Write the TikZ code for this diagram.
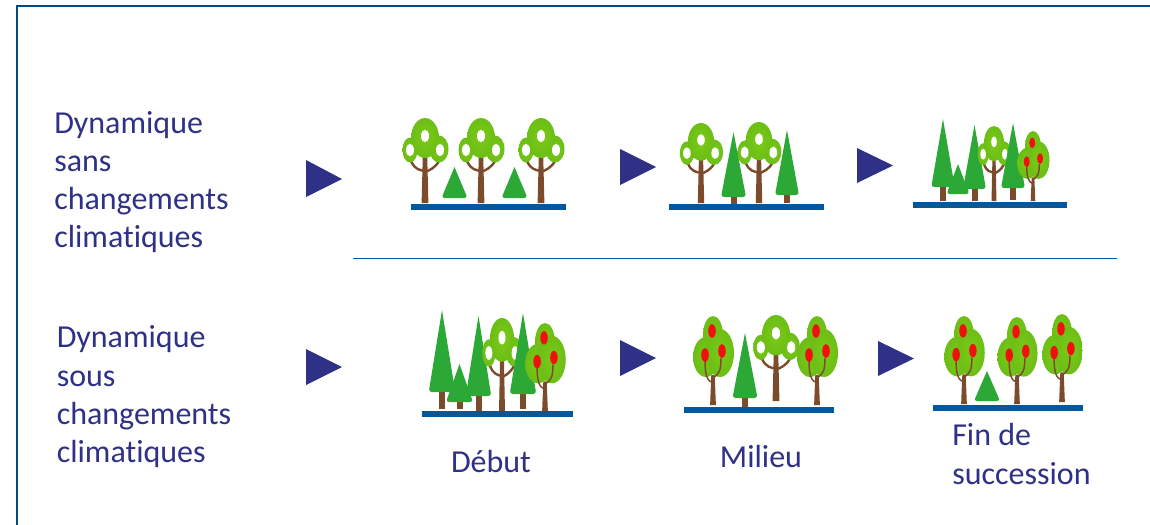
\documentclass[tikz,border=0pt]{standalone}
\usepackage{fontspec}
\setmainfont[Ligatures=NoCommon]{Carlito}
\definecolor{navy}{HTML}{2E3185}
\definecolor{framec}{HTML}{004A80}
\definecolor{groundc}{HTML}{0059A0}
\definecolor{firc}{HTML}{2BA836}
\definecolor{trunkc}{HTML}{7B4B2C}
\definecolor{leafa}{HTML}{7CCA18}
\definecolor{leafb}{HTML}{6CBE16}
\definecolor{fruitc}{HTML}{F01010}
\tikzset{
  lab/.style={text=navy,font=\fontsize{24}{28.5}\selectfont,inner sep=0pt,align=left},
  go/.style={fill=navy},
  ground/.style={fill=groundc},
  hole/.style={fill=white},
  leaf/.style={inner color=leafa,outer color=leafb}
}
% [x squeeze], x, base, top
\newcommand{\oaktree}[4][1]{%
  \pgfmathsetmacro{\sc}{(#3-(#4))/85}
  \pgfmathsetmacro{\sx}{\sc*#1}
  \begin{scope}[shift={(#2,#3)},yscale=\sc,xscale=\sx]
    \fill[trunkc] (-3.4,0) -- (3.4,0) -- (2.2,-48) -- (-2.2,-48) -- cycle;
    \draw[trunkc,line width=1.8pt] (-14,-42) .. controls (-10,-33) and (-5,-33) .. (0,-32);
    \draw[trunkc,line width=1.8pt] (14,-42) .. controls (10,-35) and (5,-33) .. (0,-31);
    \shade[leaf] (-15,-53) ellipse [x radius=7.5,y radius=12.5];
    \shade[leaf] (14,-54) ellipse [x radius=9.5,y radius=13.5];
    \shade[leaf] (0,-65) ellipse [x radius=14,y radius=20];
    \fill[hole] (0,-67) ellipse [x radius=4,y radius=6.2];
    \fill[hole] (-15,-53) ellipse [x radius=4,y radius=6.2];
    \fill[hole] (15,-53) ellipse [x radius=4,y radius=6.2];
  \end{scope}}
\newcommand{\appletree}[3]{%
  \pgfmathsetmacro{\sc}{(#2-(#3))/89}
  \begin{scope}[shift={(#1,#2)},yscale=\sc,xscale=\sc]
    \shade[leaf] (0,-70) ellipse [x radius=10,y radius=19];
    \shade[leaf] (-7,-48) ellipse [x radius=13,y radius=20];
    \shade[leaf] (7,-52) ellipse [x radius=14,y radius=24];
    \fill[trunkc] (-2.9,0) -- (2.9,0) -- (1.7,-30) -- (-1.7,-30) -- cycle;
    \draw[trunkc,line width=1.1pt] (-8,-45) .. controls (-8,-30) and (-6,-24) .. (0,-22);
    \draw[trunkc,line width=1.1pt] (8,-47) .. controls (8,-34) and (6,-31) .. (0,-27);
    \fill[fruitc] (-1,-74) ellipse [x radius=3.8,y radius=6.8];
    \fill[fruitc] (-8,-50) ellipse [x radius=3.8,y radius=6.8];
    \fill[fruitc] (9,-54) ellipse [x radius=3.8,y radius=6.8];
  \end{scope}}
% x, trunk bottom, crown bottom, top, width
\newcommand{\firtree}[5]{%
  \fill[trunkc] ({#1-3},#2) rectangle ({#1+3},{#3-1});
  \tritree{#1}{#3}{#4}{#5}}
% x, bottom, top, width
\newcommand{\tritree}[4]{%
  \fill[firc] (#1,#3) [rounded corners=2.2pt] -- ({#1+#4/2+0.5},#2) -- ({#1-#4/2-0.5},#2) [sharp corners] -- cycle;}
\begin{document}
\begin{tikzpicture}[x=0.75pt,y=-0.75pt]
\useasboundingbox (0,0) rectangle (1150,525);
% frame
\coordinate (fa) at (17,525);
\coordinate (fb) at (17,6);
\coordinate (fc) at (1150,6);
\draw[framec,line width=1.9pt] (fa) -- (fb) -- (fc);
% separator
\coordinate (sa) at (353,258.5);
\coordinate (sb) at (1117,258.5);
\draw[groundc,line width=0.8pt] (sa) -- (sb);
% texts
\node[lab,anchor=base west] (t1a) at (54,133) {Dynamique};
\node[lab,anchor=base west] (t1b) at (54,171) {sans};
\node[lab,anchor=base west] (t1c) at (54,209) {changements};
\node[lab,anchor=base west] (t1d) at (54,247) {climatiques};
\node[lab,anchor=base west] (t2a) at (56.5,347) {Dynamique};
\node[lab,anchor=base west] (t2b) at (56.5,386) {sous};
\node[lab,anchor=base west] (t2c) at (56.5,424) {changements};
\node[lab,anchor=base west] (t2d) at (56.5,462) {climatiques};
\node[lab,anchor=base] (l1) at (491,472) {Début};
\node[lab,anchor=base] (l2) at (761,467) {Milieu};
\node[lab,anchor=base west] (l3a) at (952,445) {Fin de};
\node[lab,anchor=base west] (l3b) at (952,484) {succession};
% arrows
\fill[go] (306,160) -- (342,179) -- (306,197) -- cycle;
\fill[go] (620,149) -- (656,167) -- (620,185) -- cycle;
\fill[go] (857,148) -- (893,165.5) -- (857,183) -- cycle;
\fill[go] (306,349) -- (342,367) -- (306,385) -- cycle;
\fill[go] (620,340) -- (656,358) -- (620,376) -- cycle;
\fill[go] (878,341) -- (914,358.5) -- (878,376) -- cycle;
% row 1 panel 1
\oaktree{425}{203}{118}
\oaktree{481}{203}{118}
\oaktree{541}{203}{118}
\tritree{454.5}{198}{167}{25}
\tritree{514.5}{198}{167}{25}
\fill[ground] (411,203.5) rectangle (566,209.5);
% row 1 panel 2
\oaktree{701}{203}{123}
\oaktree{759}{203}{122}
\firtree{733.5}{210}{197}{132}{24}
\firtree{787}{203}{195}{130}{23}
\fill[ground] (669,203.5) rectangle (824,209.5);
% row 1 panel 3
\firtree{943}{201}{187}{119}{22.5}
\tritree{958}{194}{164}{22}
\firtree{974.5}{201}{189}{125}{22}
\oaktree[0.82]{994}{201}{126}
\firtree{1013}{200}{188}{123}{23}
\appletree{1033}{201}{131}
\fill[ground] (912.5,201.5) rectangle (1067,207.5);
% row 2 panel 1
\firtree{442}{409}{392}{310}{25.5}
\firtree{459.5}{409}{402}{364}{26}
\firtree{478.5}{411}{396}{316}{24.5}
\oaktree[0.8]{502}{411}{318}
\firtree{523}{409}{394}{313}{25.5}
\appletree{545}{411}{323}
\fill[ground] (422,411) rectangle (572.5,417);
% row 2 panel 2
\appletree{713}{405}{316}
\firtree{745}{407}{398}{333}{24}
\oaktree{776}{401}{315}
\appletree{817}{405}{316}
\fill[ground] (683.5,406.5) rectangle (834,413);
% row 2 panel 3
\appletree{964}{404}{316}
\tritree{987}{401}{371}{25}
\appletree{1017}{404}{317}
\appletree{1062}{402}{314}
\fill[ground] (932.5,404.5) rectangle (1083,411);
\end{tikzpicture}
\end{document}
